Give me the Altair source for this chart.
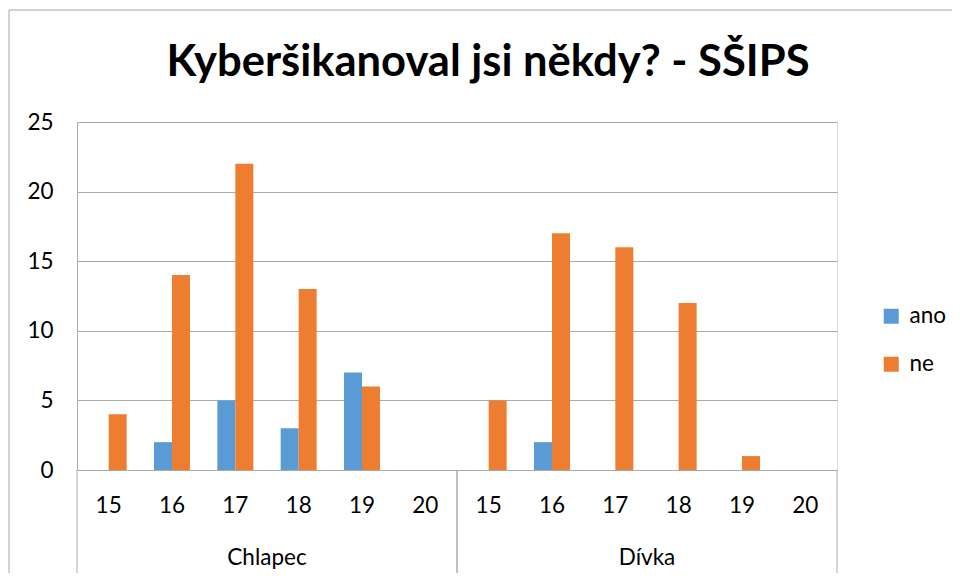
import altair as alt
import pandas as pd

title_text = "Kyberšikanoval jsi někdy? - SŠIPS"
groups = ["Chlapec", "Dívka"]
ages = ["15", "16", "17", "18", "19", "20"]
series = ["ano", "ne"]
ano_chlapec = [0, 2, 5, 3, 7, 0]
ne_chlapec = [4, 14, 22, 13, 6, 0]
ano_divka = [0, 2, 0, 0, 0, 0]
ne_divka = [5, 17, 16, 12, 1, 0]
y_ticks = [0, 5, 10, 15, 20, 25]

rows = []
for g, ano, ne in [(groups[0], ano_chlapec, ne_chlapec), (groups[1], ano_divka, ne_divka)]:
    for a, va, vn in zip(ages, ano, ne):
        rows.append(dict(group=g, age=a, key=f"{g}|{a}", series="ano", value=va))
        rows.append(dict(group=g, age=a, key=f"{g}|{a}", series="ne", value=vn))
df = pd.DataFrame(rows)
keys = [f"{g}|{a}" for g in groups for a in ages]
gdf = pd.DataFrame({"group": groups})
one = pd.DataFrame({"title": [title_text]})

GRID = "#ABABAB"
BORDER = "#A6A6A6"
FONT = "Lato"
FS = 22.5
W, H = 760, 348

bars = alt.Chart(df).mark_bar().encode(
    x=alt.X("key:N", sort=keys,
            scale=alt.Scale(domain=keys, paddingInner=0, paddingOuter=0),
            axis=alt.Axis(title=None, labelExpr="split(datum.label, '|')[1]",
                          ticks=False, tickSize=0, labelPadding=24, labelAngle=0,
                          domainColor=GRID, labelFontSize=FS, labelFont=FONT,
                          labelColor="#000", grid=False)),
    xOffset=alt.XOffset("series:N", scale=alt.Scale(domain=series, paddingInner=0, paddingOuter=0.76)),
    y=alt.Y("value:Q", scale=alt.Scale(domain=[0, 25], nice=False),
            axis=alt.Axis(values=y_ticks, title=None, ticks=False, tickSize=0,
                          labelPadding=24, gridColor=GRID, domainColor=GRID,
                          labelFontSize=FS, labelFont=FONT, labelColor="#000")),
    color=alt.Color("series:N", scale=alt.Scale(domain=series, range=["#5B9BD5", "#ED7D31"]),
                    legend=alt.Legend(title=None, orient="none", legendX=803, legendY=183,
                                      symbolType="square", symbolSize=225, labelFontSize=FS,
                                      labelFont=FONT, labelColor="#000", rowPadding=25,
                                      labelOffset=7, padding=0, symbolStrokeWidth=0)),
)

gscale = alt.Scale(domain=groups, paddingInner=0, paddingOuter=0)

glabels = alt.Chart(gdf).mark_text(baseline="alphabetic", fontSize=FS, font=FONT, color="#000").encode(
    x=alt.X("group:N", sort=groups, scale=gscale, axis=None),
    y=alt.value(H + 95),
    text="group:N",
)

seps_start = alt.Chart(gdf).mark_rule(color=GRID, strokeWidth=1).encode(
    x=alt.X("group:N", sort=groups, scale=gscale, axis=None, bandPosition=0),
    y=alt.value(H),
    y2=alt.value(H + 103),
)
seps_end = alt.Chart(gdf).mark_rule(color=GRID, strokeWidth=1).encode(
    x=alt.X("group:N", sort=groups, scale=gscale, axis=None, bandPosition=1),
    y=alt.value(H),
    y2=alt.value(H + 103),
)

border_top = alt.Chart(one).mark_rule(color=BORDER, strokeWidth=1).encode(
    x=alt.value(-68), x2=alt.value(900), y=alt.value(-112)
)
border_left = alt.Chart(one).mark_rule(color=BORDER, strokeWidth=1).encode(
    x=alt.value(-68), y=alt.value(-112), y2=alt.value(H + 110)
)
title = alt.Chart(one).mark_text(fontSize=43.5, font=FONT, fontWeight="bold", color="#000",
                                 baseline="alphabetic", align="center").encode(
    x=alt.value(W / 2 + 31), y=alt.value(-46), text="title:N"
)

chart = alt.layer(border_top, border_left, title, bars, glabels, seps_start, seps_end).resolve_scale(
    x="independent"
).properties(
    width=W, height=H,
    autosize=alt.AutoSizeParams(type="none"),
    padding={"left": 69, "top": 114, "right": 115, "bottom": 103},
).configure_view(stroke=None).configure(font=FONT)

chart.save("out.html", embed_options={"renderer": "svg", "actions": False})
